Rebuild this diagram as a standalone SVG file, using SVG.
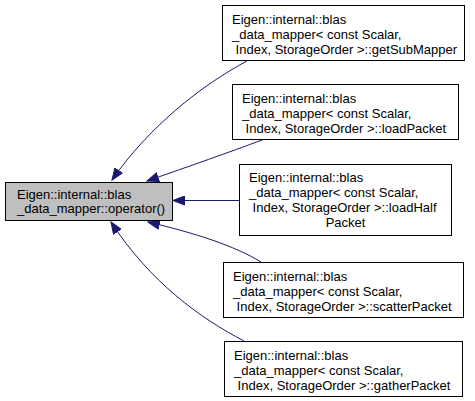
<svg xmlns="http://www.w3.org/2000/svg" width="475" height="401" viewBox="0 0 475 401">
<defs>
<style>
.box{fill:#ffffff;stroke:#000000;stroke-width:1}
.main{fill:#bfbfbf;stroke:#000000;stroke-width:1}
text{font-family:"Liberation Sans",Arial,Helvetica,sans-serif;font-size:13px;fill:#000000}
.edge{fill:none;stroke:#191970;stroke-width:1}
</style>
<marker id="arr" markerUnits="userSpaceOnUse" markerWidth="13" markerHeight="10" refX="12" refY="5" orient="auto">
<path d="M0.5,0.5 L12,5 L0.5,9.5 z" fill="#191970" stroke="#191970" stroke-width="1"/>
</marker>
</defs>
<rect width="475" height="401" fill="#ffffff"/>
<g id="edges">
<path class="edge" marker-end="url(#arr)" d="M247,61 C200,86 148,128 112,180"/>
<path class="edge" marker-end="url(#arr)" d="M262,140 C230,152 190,166 147,181"/>
<path class="edge" marker-end="url(#arr)" d="M239,200.5 L173,200.5"/>
<path class="edge" marker-end="url(#arr)" d="M261,262 C235,246 195,233 148,222"/>
<path class="edge" marker-end="url(#arr)" d="M244,341 C200,318 150,282 111,222"/>
</g>
<g id="node-main">
<rect class="main" x="5.5" y="182.5" width="167" height="38"/>
<text x="17" y="199">Eigen::internal::blas</text>
<text x="17" y="213">_data_mapper::operator()</text>
</g>
<g id="node-getSubMapper">
<rect class="box" x="222.5" y="5.5" width="242" height="55"/>
<text x="232" y="24">Eigen::internal::blas</text>
<text x="232" y="39">_data_mapper&lt; const Scalar,</text>
<text x="232" y="54" xml:space="preserve"> Index, StorageOrder &gt;::getSubMapper</text>
</g>
<g id="node-loadPacket">
<rect class="box" x="232.5" y="84.5" width="226" height="55"/>
<text x="242" y="103">Eigen::internal::blas</text>
<text x="242" y="118">_data_mapper&lt; const Scalar,</text>
<text x="242" y="133" xml:space="preserve"> Index, StorageOrder &gt;::loadPacket</text>
</g>
<g id="node-loadHalfPacket">
<rect class="box" x="239.5" y="164.5" width="212" height="71"/>
<text x="249" y="182">Eigen::internal::blas</text>
<text x="249" y="197">_data_mapper&lt; const Scalar,</text>
<text x="249" y="212" xml:space="preserve"> Index, StorageOrder &gt;::loadHalf</text>
<text x="345.5" y="227" text-anchor="middle">Packet</text>
</g>
<g id="node-scatterPacket">
<rect class="box" x="223.5" y="262.5" width="240" height="55"/>
<text x="233" y="281">Eigen::internal::blas</text>
<text x="233" y="296">_data_mapper&lt; const Scalar,</text>
<text x="233" y="311" xml:space="preserve"> Index, StorageOrder &gt;::scatterPacket</text>
</g>
<g id="node-gatherPacket">
<rect class="box" x="224.5" y="341.5" width="238" height="55"/>
<text x="234" y="360">Eigen::internal::blas</text>
<text x="234" y="375">_data_mapper&lt; const Scalar,</text>
<text x="234" y="390" xml:space="preserve"> Index, StorageOrder &gt;::gatherPacket</text>
</g>
</svg>
